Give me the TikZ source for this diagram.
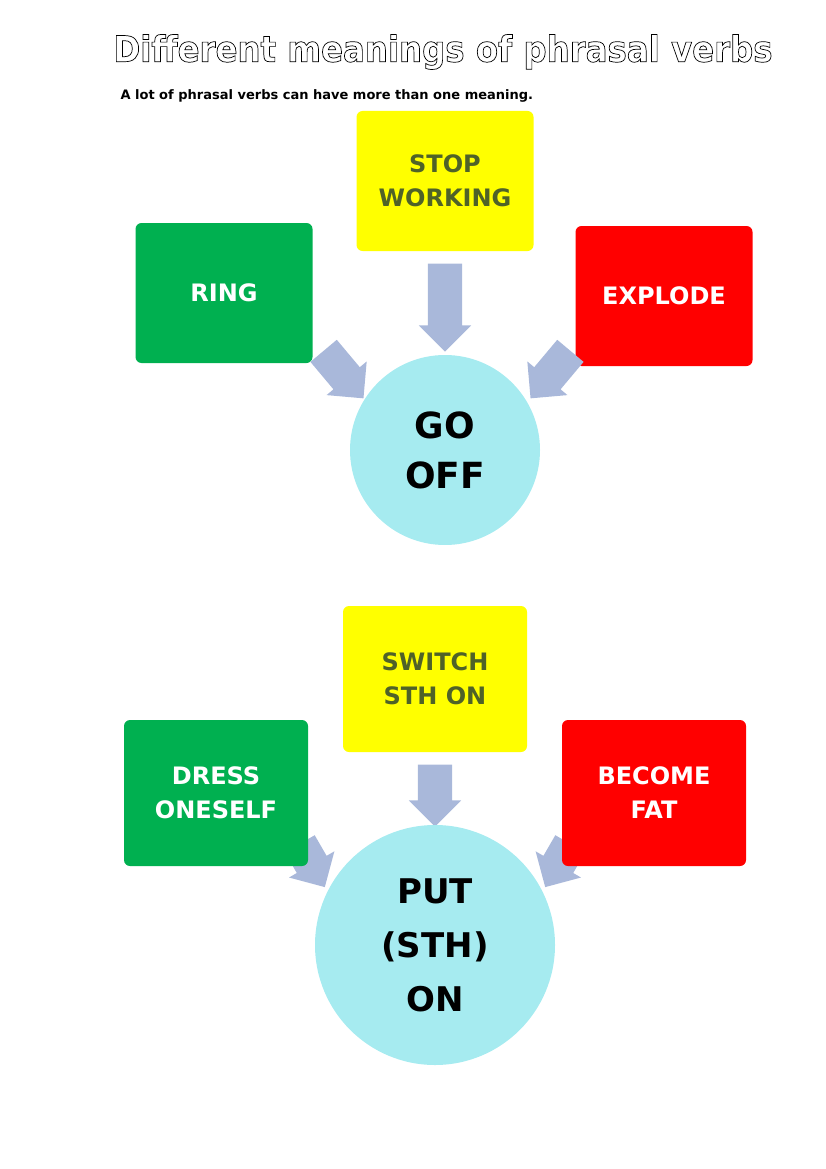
\documentclass[tikz,border=0pt]{standalone}
\usepackage{fontspec}
\setmainfont{DejaVu Sans}
\newfontfamily\condf{DejaVu Sans Condensed}
\usetikzlibrary{shapes.arrows}
\definecolor{yel}{HTML}{FFFF00}
\definecolor{grn}{HTML}{00B050}
\definecolor{rd}{HTML}{FF0000}
\definecolor{cy}{HTML}{A6EBF0}
\definecolor{arr}{HTML}{A9B8DA}
\definecolor{olive}{HTML}{4F6228}
\tikzset{
 box/.style={rounded corners=6pt, minimum width=177pt, minimum height=140pt, align=center, font=\fontsize{24}{34}\selectfont\bfseries, inner sep=0pt},
 ybox/.style={box, fill=yel, text=olive},
 gbox/.style={box, fill=grn, text=white},
 rbox/.style={box, fill=rd, text=white},
 verb/.style={circle, fill=cy, align=center, font=\fontsize{36}{50}\selectfont\bfseries, text=black, inner sep=0pt},
 barrow/.style={single arrow, fill=arr, draw=none, single arrow head extend=9pt, minimum height=#1, inner sep=0pt}
}
\newcommand{\shaft}{\rule{0pt}{34pt}}
\begin{document}
\begin{tikzpicture}[x=1pt,y=-1pt]
\useasboundingbox (0,0) rectangle (826,1169);
\node (title) at (443,52) {\condf\fontsize{36}{40}\selectfont\bfseries\special{pdf:literal direct 1 Tr 0.7 w}Different meanings of phrasal verbs\special{pdf:literal direct 0 Tr}};
\node[anchor=west, font=\fontsize{13}{16}\selectfont\bfseries] (sub) at (117,96) {A lot of phrasal verbs can have more than one meaning.};
% top group
\node[ybox] (stop) at (445,181) {STOP\\WORKING};
\node[gbox] (ring) at (224,293) {RING};
\node[rbox] (expl) at (664,296) {EXPLODE};
\node[verb, minimum size=190pt] (go) at (445,450) {GO\\OFF};
\node[barrow=88pt, rotate=-90] (a1) at (445,299) {\shaft};
\node[barrow=62pt, rotate=-50] (a2) at (338,368) {\shaft};
\node[barrow=62pt, rotate=-130] (a3) at (556,368) {\shaft};
% bottom group
\node[ybox, minimum height=146pt, minimum width=184pt] (sw) at (435,679) {SWITCH\\STH ON};
\node[barrow=62pt, rotate=-90] (b1) at (435,787) {\shaft};
\node[barrow=50pt, rotate=-60] (b2) at (308,858) {\shaft};
\node[barrow=50pt, rotate=-120] (b3) at (562,858) {\shaft};
\node[gbox, minimum height=146pt, minimum width=184pt] (dr) at (216,793) {DRESS\\ONESELF};
\node[rbox, minimum height=146pt, minimum width=184pt] (bf) at (654,793) {BECOME\\FAT};
\node[verb, minimum size=240pt, font=\fontsize{34}{54}\selectfont\bfseries] (put) at (435,945) {PUT\\(STH)\\ON};
\end{tikzpicture}
\end{document}
